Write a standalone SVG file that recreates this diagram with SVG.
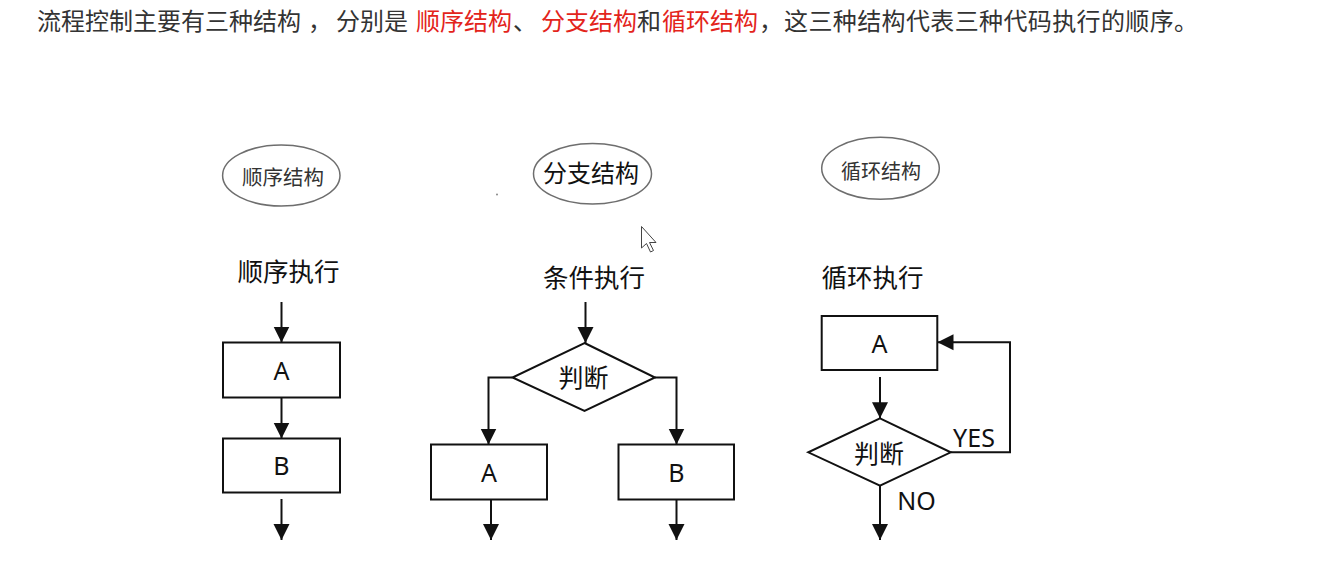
<svg xmlns="http://www.w3.org/2000/svg" width="1340" height="567" viewBox="0 0 1340 567">
<style>
.title{font-family:"Noto Sans CJK SC","Noto Sans",sans-serif;font-size:24px;fill:#333}
.red{fill:#e3241b}
.lbl{font-family:"Noto Sans","Noto Sans CJK SC",sans-serif;font-size:25px;fill:#111;text-anchor:middle}
.cjk{font-family:"Noto Sans CJK SC",sans-serif;fill:#111;text-anchor:middle}
.ell{fill:#fff;stroke:#6e6e6e;stroke-width:1.5}
.box{fill:#fff;stroke:#111;stroke-width:2}
.con{fill:none;stroke:#111;stroke-width:2}
</style>
<defs>
<marker id="ah" markerUnits="userSpaceOnUse" markerWidth="17" markerHeight="17" viewBox="0 0 17 17" refX="16" refY="8.5" orient="auto">
<path d="M0,0.5 L16,8.5 L0,16.5 Z" fill="#111"/>
</marker>
</defs>
<rect width="1340" height="567" fill="#fff"/>
<text class="title" y="30"><tspan x="37">流程控制主要有三种结构</tspan><tspan x="308">，</tspan><tspan x="336">分别是</tspan><tspan x="416" class="red">顺序结构</tspan><tspan x="513">、</tspan><tspan x="541" class="red">分支结构</tspan><tspan x="637">和</tspan><tspan x="662" class="red">循环结构</tspan><tspan x="759">，</tspan><tspan x="784" textLength="414" lengthAdjust="spacing">这三种结构代表三种代码执行的顺序。</tspan></text>

<g id="seq-title"><ellipse class="ell" cx="281.3" cy="175.5" rx="58.7" ry="30.5"/><text class="cjk" x="283" y="185" font-size="20.5" style="fill:#333">顺序结构</text></g>
<g id="br-title"><ellipse class="ell" cx="592.5" cy="173.7" rx="59" ry="30.3"/><text class="cjk" x="591" y="182" font-size="24">分支结构</text></g>
<g id="loop-title"><ellipse class="ell" cx="880.5" cy="168.3" rx="58.8" ry="31"/><text class="cjk" x="881" y="178.5" font-size="20" style="fill:#333">循环结构</text></g>

<g id="seq-head"><text class="cjk" x="288.5" y="281" font-size="25.5">顺序执行</text></g>
<g id="br-head"><text class="cjk" x="594" y="287" font-size="25.5">条件执行</text></g>
<g id="loop-head"><text class="cjk" x="872.5" y="287" font-size="25.5">循环执行</text></g>

<g id="connectors">
<path class="con" marker-end="url(#ah)" d="M281.5,302 V342.5"/>
<path class="con" marker-end="url(#ah)" d="M281.5,397.5 V438.5"/>
<path class="con" marker-end="url(#ah)" d="M281.5,499 V540"/>
<path class="con" marker-end="url(#ah)" d="M585.5,302 V343"/>
<path class="con" marker-end="url(#ah)" d="M512.5,377.5 H488.5 V444.5"/>
<path class="con" marker-end="url(#ah)" d="M655,377.5 H676.5 V444.5"/>
<path class="con" marker-end="url(#ah)" d="M491,499.5 V540"/>
<path class="con" marker-end="url(#ah)" d="M676.5,499.5 V540"/>
<path class="con" marker-end="url(#ah)" d="M880,377 V418.3"/>
<path class="con" marker-end="url(#ah)" d="M950.7,452.3 H1010 V342.3 H937.5"/>
<path class="con" marker-end="url(#ah)" d="M880,485.7 V540"/>
</g>

<g id="seq-A"><rect class="box" x="223" y="342.5" width="117" height="55"/><text class="lbl" x="281.5" y="380">A</text></g>
<g id="seq-B"><rect class="box" x="223" y="438.5" width="117" height="54"/><text class="lbl" x="281.5" y="475">B</text></g>

<g id="br-cond"><polygon class="box" points="584.5,343 655,377.5 584.5,411 512.5,377.5"/><text class="cjk" x="583.5" y="386.5" font-size="25">判断</text></g>
<g id="br-A"><rect class="box" x="431" y="444.5" width="116" height="55"/><text class="lbl" x="489" y="481.5">A</text></g>
<g id="br-B"><rect class="box" x="618.5" y="444.5" width="115.5" height="55"/><text class="lbl" x="676.5" y="481.5">B</text></g>

<g id="loop-A"><rect class="box" x="821.7" y="316" width="115.6" height="54"/><text class="lbl" x="879.5" y="353" font-size="23">A</text></g>
<g id="loop-cond"><polygon class="box" points="880,418.3 950.7,452.3 880,485.7 808.3,452.3"/><text class="cjk" x="879" y="462.5" font-size="25">判断</text></g>
<g id="loop-yes"><text class="lbl" x="974" y="446.5" font-size="24">YES</text></g>
<g id="loop-no"><text class="lbl" x="916.5" y="509.5" font-size="24">NO</text></g>

<g id="cursor"><path d="M641.5,226.5 L641.5,248 L646.5,243.5 L650.5,252 L653.5,250.5 L649.5,242.5 L656,242.5 Z" fill="#fff" stroke="#444" stroke-width="1"/></g>
<circle cx="497" cy="194.5" r="1" fill="#888"/>
</svg>
